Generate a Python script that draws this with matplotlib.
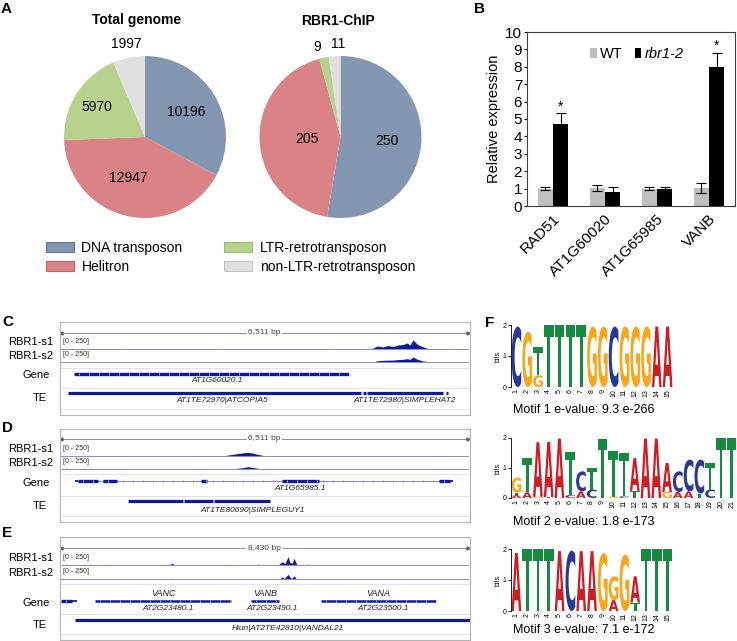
import numpy as np
import matplotlib
matplotlib.use("Agg")
import matplotlib.pyplot as plt
import matplotlib.transforms as mtransforms
from matplotlib.patches import Patch, PathPatch
from matplotlib.textpath import TextPath
from matplotlib.font_manager import FontProperties

plt.rcParams['font.family'] = ['Liberation Sans', 'DejaVu Sans']

W, H = 737, 641

# ---------------- data ----------------
# A: TE classes
te_classes = ["DNA transposon", "Helitron", "LTR-retrotransposon", "non-LTR-retrotransposon"]
te_colors = ["#8497b0", "#d98386", "#b8d28e", "#e0e0e0"]
te_edges = ["#5f7593", "#c06468", "#9dbb6f", "#c4c4c4"]
total_genome = [10196, 12947, 5970, 1997]
rbr1_chip = [250, 205, 9, 11]

# B: qRT-PCR
genes = ["RAD51", "AT1G60020", "AT1G65985", "VANB"]
wt_mean = [1.0, 1.05, 1.0, 1.05]
wt_err = [0.07, 0.18, 0.1, 0.28]
rbr_mean = [4.7, 0.8, 1.0, 8.0]
rbr_err = [0.65, 0.3, 0.08, 0.8]
signif = [True, False, False, True]

# C: AT1G60020 locus
c_len = 6511
c_s1_x = [0, 900, 950, 1000, 2450, 2500, 2550, 4300, 4350, 4400, 4950, 5007, 5055, 5151, 5231,
          5311, 5391, 5471, 5535, 5583, 5631, 5695, 5775, 5871, 5983, 6250, 6300, 6350, 6511]
c_s1_y = [0, 0, 8, 0, 0, 6, 0, 0, 8, 0, 0, 30, 62, 42, 73,
          52, 83, 94, 125, 83, 190, 104, 52, 10, 0, 0, 8, 0, 0]
c_s2_x = [0, 1500, 1550, 1600, 3700, 3750, 3800, 5000, 5055, 5151, 5231, 5311, 5391, 5471,
          5535, 5583, 5631, 5695, 5775, 5900, 6000, 6511]
c_s2_y = [0, 0, 6, 0, 0, 6, 0, 0, 25, 35, 38, 40, 50, 55,
          70, 55, 104, 60, 25, 5, 0, 0]
c_thick = [(210, 4610)]
c_gene_labels = [("AT1G60020.1", 2496)]
c_te = [(112, 4799), (4831, 4879), (4895, 6111), (6159, 6191)]
c_te_labels = [("AT1TE72970|ATCOPIA5", 2576), ("AT1TE72980|SIMPLEHAT2", 5503)]

# D: AT1G65985 locus
d_len = 6511
d_s1_x = [0, 1200, 1250, 1300, 2550, 2650, 2750, 2850, 2950, 3000, 3080, 3160, 3250, 3350,
          4800, 4850, 4900, 6511]
d_s1_y = [0, 0, 6, 0, 0, 15, 35, 55, 72, 77, 55, 30, 8, 0, 0, 6, 0, 0]
d_s2_x = [0, 2700, 2800, 2900, 2990, 3040, 3120, 3220, 3300, 6511]
d_s2_y = [0, 0, 12, 25, 48, 40, 20, 5, 0, 0]
d_thick = [(272, 592), (672, 896), (2240, 2336), (3535, 4127), (6047, 6223)]
d_utr = [(224, 272), (6223, 6271)]
d_intron = [(272, 6223)]
d_gene_labels = [("AT1G65985.1", 3823)]
d_te = [(1072, 1952), (1968, 2432), (2448, 3343)]
d_te_labels = [("AT1TE80690|SIMPLEGUY1", 3071)]

# E: VANDAL21 locus
e_len = 8430
e_s1_x = [0, 870, 912, 950, 2250, 2299, 2350, 2980, 3024, 3070, 3420, 3459, 3500, 4040, 4080,
          4120, 4495, 4578, 4640, 4702, 4743, 4790, 4826, 4888, 5080, 5116, 5160, 6050, 6089,
          6130, 6820, 6855, 6890, 8430]
e_s1_y = [0, 0, 15, 0, 0, 40, 0, 0, 15, 0, 0, 15, 0, 0, 20,
          0, 0, 69, 30, 173, 50, 40, 139, 0, 0, 20, 0, 0, 15,
          0, 0, 15, 0, 0]
e_s2_x = [0, 2250, 2299, 2350, 4520, 4578, 4630, 4702, 4750, 4790, 4826, 4875, 6050, 6089, 6130, 8430]
e_s2_y = [0, 0, 15, 0, 0, 42, 15, 97, 25, 20, 69, 0, 0, 10, 0, 0]
e_thick = [(0, 228)]
e_utr = [(228, 331)]
e_mid = [(704, 3521), (3935, 4515), (5385, 7767)]
e_gene_names = [("VANC", 2113), ("VANB", 4225), ("VANA", 6566)]
e_gene_labels = [("AT2G23480.1", 2216), ("AT2G23490.1", 4370), ("AT2G23500.1", 6669)]
e_te = [(290, 8500)]
e_te_labels = [("Hiun|AT2TE42810|VANDAL21", 4702)]

# F: motifs (letters bottom -> top, heights in bits)
motif1_letters = ["C", "G", "GT", "T", "T", "T", "T", "G", "G", "C", "G", "G", "G", "A", "A"]
motif1_heights = [[1.95], [1.78], [0.38, 0.9], [2.0], [2.0], [2.0], [2.0], [1.95], [1.95],
                  [1.95], [1.95], [1.95], [1.95], [1.95], [1.95]]
motif2_letters = ["ATG", "AT", "GA", "TA", "A", "CT", "AC", "CT", "T", "GT", "CT", "TA", "A", "A",
                  "GA", "AC", "AC", "TC", "CT", "T", "T"]
motif2_heights = [[0.1, 0.08, 0.5], [0.19, 1.14], [0.04, 1.82], [0.03, 1.84], [1.98], [0.1, 1.45],
                  [0.22, 0.67], [0.28, 0.72], [1.98], [0.05, 1.52], [0.06, 1.44], [0.24, 1.09],
                  [1.98], [1.98], [0.2, 0.97], [0.2, 0.69], [0.22, 1.06], [0.15, 1.13],
                  [0.28, 0.89], [2.0], [2.0]]
motif3_letters = ["A", "T", "T", "T", "A", "C", "A", "A", "G", "AG", "G", "TA", "T", "T", "T"]
motif3_heights = [[1.87], [2.0], [2.0], [2.0], [1.93], [1.95], [1.93], [1.93], [1.87],
                  [0.35, 0.77], [1.82], [0.27, 0.85], [2.0], [2.0], [2.0]]
motif_captions = ["Motif 1 e-value: 9.3 e-266", "Motif 2 e-value: 1.8 e-173", "Motif 3 e-value: 7.1 e-172"]


fig = plt.figure(figsize=(W / 100, H / 100), dpi=100)


def rect(x0, y0, x1, y1):
    return [x0 / W, 1 - y1 / H, (x1 - x0) / W, (y1 - y0) / H]


def ftext(x, y, s, **kw):
    fig.text(x / W, 1 - y / H, s, **kw)


# panel letters
for lab, x, y in [("A", 1, 9), ("B", 474, 9), ("C", 2, 322), ("D", 2, 428), ("E", 2, 533), ("F", 485, 323)]:
    ftext(x, y, lab, fontsize=11, fontweight='bold', va='center')

# ---------------- A: pies ----------------
r = 81
pies = [(total_genome, (145, 137), "Total genome", (137, 20), [0.6, 0.55, 0.7, 1.17], [0, -9, 0, 0]),
        (rbr1_chip, (340.5, 137), "RBR1-ChIP", (338, 21), [0.58, 0.42, 1.15, 1.15], [0, 0, 3, -3])]
for vals, (cx, cy), title, (tx, ty), dists, shifts in pies:
    ax = fig.add_axes(rect(cx - r, cy - r, cx + r, cy + r))
    wedges, _ = ax.pie(vals, colors=te_colors, startangle=90, counterclock=False,
                       wedgeprops=dict(linewidth=0))
    ax.set_xlim(-1, 1)
    ax.set_ylim(-1, 1)
    for w, v, d, s in zip(wedges, vals, dists, shifts):
        ang = np.deg2rad((w.theta1 + w.theta2) / 2 + s)
        ax.text(d * np.cos(ang), d * np.sin(ang), str(v), ha='center', va='center', fontsize=10)
    ftext(tx, ty, title, fontsize=10, fontweight='bold', ha='center', va='center')

handles = [Patch(facecolor=c, edgecolor=e, linewidth=0.8, label=l)
           for c, e, l in zip(te_colors, te_edges, te_classes)]
fig.legend(handles=handles, ncol=2, loc='upper left', bbox_to_anchor=(46 / W, 1 - 241 / H),
           frameon=False, fontsize=10, handlelength=2.0, handleheight=0.8, handletextpad=0.55,
           columnspacing=3.0, labelspacing=0.35, borderpad=0, borderaxespad=0)

# ---------------- B: bars ----------------
axb = fig.add_axes(rect(527, 32, 735, 206))
x = np.arange(len(genes))
bw = 0.29
ekw = dict(elinewidth=0.8, capthick=0.8, ecolor='black')
axb.bar(x - bw / 2, wt_mean, bw, yerr=wt_err, color='#bfbfbf', capsize=3.5, error_kw=ekw, label='WT')
axb.bar(x + bw / 2, rbr_mean, bw, yerr=rbr_err, color='black', capsize=3.5, error_kw=ekw, label='rbr1-2')
for i, s in enumerate(signif):
    if s:
        axb.text(i + bw / 2, rbr_mean[i] + rbr_err[i] + 0.15, '*', ha='center', va='baseline', fontsize=10)
axb.set_xlim(-0.5, 3.5)
axb.set_ylim(0, 10)
axb.set_yticks(range(11))
axb.set_xticks(x)
axb.set_xticklabels(genes, rotation=45, ha='right', rotation_mode='anchor', fontsize=11)
axb.tick_params(axis='y', labelsize=11, length=2, pad=1.5)
axb.tick_params(axis='x', length=0, pad=4)
axb.set_ylabel("Relative expression", fontsize=10.5, labelpad=3)
for sp in axb.spines.values():
    sp.set_linewidth(0.8)
    sp.set_color('#404040')
leg = axb.legend(loc='upper left', bbox_to_anchor=(590 / W, 1 - 47 / H), bbox_transform=fig.transFigure,
                 ncol=2, frameon=False, fontsize=10.5, handlelength=0.45, handleheight=0.7,
                 handletextpad=0.25, columnspacing=0.8, borderpad=0, borderaxespad=0)
leg.get_texts()[1].set_style('italic')

# ---------------- C-E: genome browser tracks ----------------
blue = '#0d1a9c'


def draw_locus(top, bottom, L, rows, sig1, sig2, thick=(), utr=(), intron=(), mid=(),
               gene_labels=(), gene_names=(), te=(), te_labels=()):
    ax = fig.add_axes(rect(60, top, 470, bottom))
    hb = bottom - top
    ax.set_xlim(-L * 0.0025, L * 1.0049)
    ax.set_ylim(hb, 0)
    ax.set_xticks([])
    ax.set_yticks([])
    for sp in ax.spines.values():
        sp.set_color('#b4b4b4')
        sp.set_linewidth(0.8)
    step = L / 407 * 10
    # ruler
    ry = rows['ruler']
    ax.plot([0, L], [ry, ry], color='#808080', lw=0.6)
    ax.plot([0], [ry], marker='<', ms=2.2, color='#606060')
    ax.plot([L], [ry], marker='>', ms=2.2, color='#606060')
    ax.text(L / 2, ry, f"{L:,} bp", ha='center', va='center', fontsize=6, color='#444444',
            bbox=dict(fc='white', ec='none', pad=1.2))
    # separators
    for y in rows['seps']:
        ax.axhline(y, color='#e3e3e3', lw=0.7)
    # coverage tracks
    for (sx, sy), base in ((sig1, rows['s1']), (sig2, rows['s2'])):
        hv = np.array(sy) / 250 * 12
        ax.fill_between(sx, base, base - hv, color=blue, lw=0)
        ax.plot([0, L], [base, base], color='#8a8dcf', lw=0.7)
        ax.text(L * 0.006, base - 7.5, '[0 - 250]', fontsize=5, va='center', color='#333333')
    # gene track
    g = rows['gene']
    for s, e in intron:
        ax.plot([s, e], [g, g], color='#6a70d0', lw=0.6)
        tx = np.arange(s + step / 2, e, step)
        ax.plot(tx, [g] * len(tx), ls='none', marker='|', ms=2.0, mew=0.5, color='#6a70d0')
    for s, e in utr:
        ax.plot([s, e], [g, g], color=blue, lw=1.3, solid_capstyle='butt')
    for s, e in mid:
        ax.plot([s, e], [g, g], color=blue, lw=1.8, solid_capstyle='butt')
        tx = np.arange(s + step / 2, e, step)
        ax.plot(tx, [g] * len(tx), ls='none', marker='|', ms=0.9, mew=0.4, color='white')
    for s, e in thick:
        ax.plot([s, e], [g, g], color=blue, lw=2.4, solid_capstyle='butt')
        tx = np.arange(s + step / 2, e, step)
        ax.plot(tx, [g] * len(tx), ls='none', marker='|', ms=1.0, mew=0.5, color='white')
    for lab, xp in gene_labels:
        ax.text(xp, rows['gene_lab'], lab, ha='center', va='center', fontsize=6, style='italic', color='#222222')
    for lab, xp in gene_names:
        ax.text(xp, rows['names'], lab, ha='center', va='center', fontsize=6.5, style='italic', color='#222222')
    # TE track
    for s, e in te:
        ax.plot([s, e], [rows['te'], rows['te']], color=blue, lw=2.3, solid_capstyle='butt')
    for lab, xp in te_labels:
        ax.text(xp, rows['te_lab'], lab, ha='center', va='center', fontsize=6, style='italic', color='#222222')
    # track names
    ftext(53, top + rows['s1'] - 7, "RBR1-s1", fontsize=8, ha='right', va='center')
    ftext(53, top + rows['s2'] - 6, "RBR1-s2", fontsize=8, ha='right', va='center')
    ftext(50, top + rows['gene'] + 1.5, "Gene", fontsize=8, ha='right', va='center')
    ftext(47, top + rows['te'] + 5, "TE", fontsize=8, ha='right', va='center')


c_rows = dict(ruler=11, s1=27, s2=40, gene=52, gene_lab=59, te=71, te_lab=79, seps=[46, 66, 87])
d_rows = dict(ruler=10, s1=27, s2=40, gene=52, gene_lab=59, te=72, te_lab=81, seps=[45, 67, 87])
e_rows = dict(ruler=11, s1=28, s2=42, names=57, gene=64, gene_lab=71, te=83, te_lab=91, seps=[47, 77, 97])

draw_locus(322, 415, c_len, c_rows, (c_s1_x, c_s1_y), (c_s2_x, c_s2_y), thick=c_thick,
           gene_labels=c_gene_labels, te=c_te, te_labels=c_te_labels)
draw_locus(429, 522, d_len, d_rows, (d_s1_x, d_s1_y), (d_s2_x, d_s2_y), thick=d_thick, utr=d_utr,
           intron=d_intron, gene_labels=d_gene_labels, te=d_te, te_labels=d_te_labels)
draw_locus(537, 640, e_len, e_rows, (e_s1_x, e_s1_y), (e_s2_x, e_s2_y), thick=e_thick, utr=e_utr,
           mid=e_mid, gene_labels=e_gene_labels, gene_names=e_gene_names, te=e_te, te_labels=e_te_labels)

# ---------------- F: sequence logos ----------------
logo_font = FontProperties(family='DejaVu Sans', weight='bold')
base_colors = {'A': '#d01c24', 'C': '#2b3795', 'G': '#f9a61a', 'T': '#168a3e'}


def draw_logo(ax, letters, heights):
    for i, (col, hs) in enumerate(zip(letters, heights)):
        y = 0
        for ch, h in zip(col, hs):
            tp = TextPath((0, 0), ch, size=1, prop=logo_font)
            bb = tp.get_extents()
            tr = (mtransforms.Affine2D().translate(-bb.x0, -bb.y0)
                  .scale(0.9 / bb.width, h / bb.height).translate(i + 1 - 0.45, y))
            ax.add_patch(PathPatch(tr.transform_path(tp), facecolor=base_colors[ch], edgecolor='none'))
            y += h


logo_boxes = [(511, 325, 673, 387), (511, 438, 737, 498), (511, 549, 673, 611)]
caption_y = [410, 522, 630]
motifs = [(motif1_letters, motif1_heights), (motif2_letters, motif2_heights), (motif3_letters, motif3_heights)]
for (letters, heights), box, cy, cap in zip(motifs, logo_boxes, caption_y, motif_captions):
    ax = fig.add_axes(rect(*box))
    draw_logo(ax, letters, heights)
    n = len(letters)
    ax.set_xlim(0.5, n + 0.5)
    ax.set_ylim(0, 2)
    for side in ['top', 'right', 'bottom']:
        ax.spines[side].set_visible(False)
    ax.spines['left'].set_linewidth(0.6)
    ax.set_yticks([0, 1, 2])
    ax.set_xticks(range(1, n + 1))
    ax.set_xticklabels([str(k) for k in range(1, n + 1)], rotation=90, fontsize=5)
    ax.tick_params(axis='y', labelsize=5, length=2, pad=1, width=0.6)
    ax.tick_params(axis='x', length=0, pad=1.5)
    ax.set_ylabel('bits', fontsize=5, labelpad=1)
    ftext(513, cy, cap, fontsize=9, va='center', ha='left')

fig.savefig('out.png', dpi=100)
